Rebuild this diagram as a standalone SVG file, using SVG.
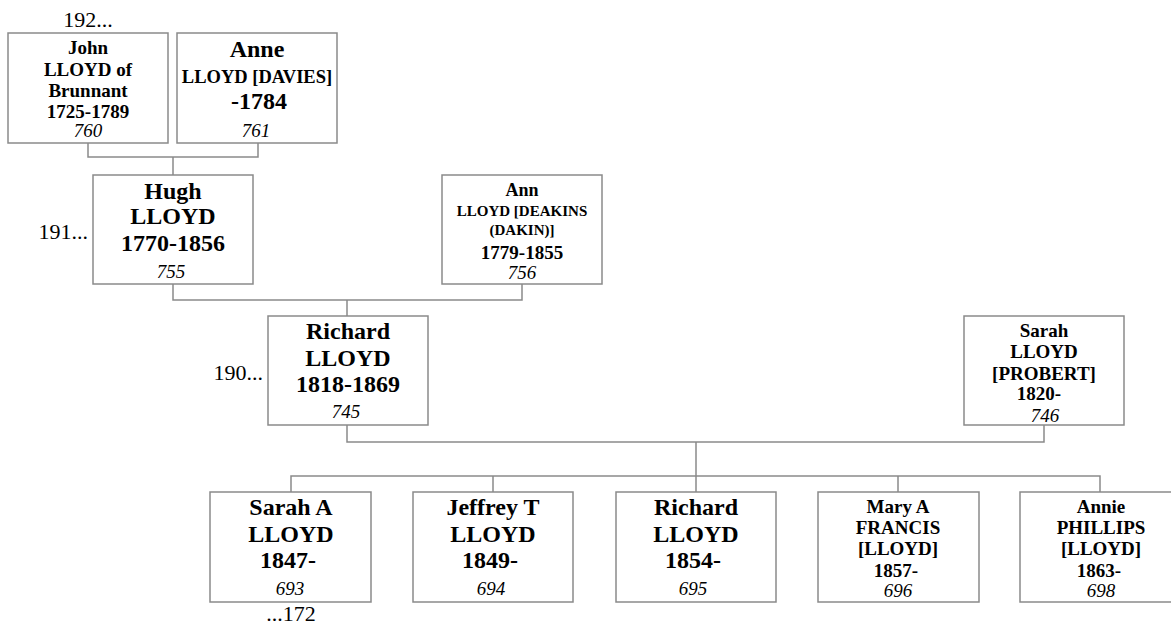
<svg xmlns="http://www.w3.org/2000/svg" width="1171" height="627" viewBox="0 0 1171 627" font-family="'Liberation Serif', Tinos, 'Times New Roman', Times, 'DejaVu Serif', serif">
<style>
.box{fill:#fff;stroke:#8a8a8a;stroke-width:1.5}
.con{fill:none;stroke:#8a8a8a;stroke-width:1.5}
text{fill:#000;text-anchor:middle}
.b{font-weight:bold}
.s24{font-size:24px}
.s19{font-size:19px}
.s18{font-size:18px}
.s185{font-size:18.5px}
.s15{font-size:15px}
.id{font-style:italic;font-size:19px}
.gen{font-size:22px}
</style>
<rect width="1171" height="627" fill="#fff"/>
<g id="connectors">
<path class="con" d="M88,143 V157 H258 V143 M173,157 V175"/>
<path class="con" d="M173,284 V300 H522 V284 M347,300 V316"/>
<path class="con" d="M347,425 V442 H1044 V425 M696,442 V476"/>
<path class="con" d="M291,492 V476 H1100 V492 M493,476 V492 M696,476 V492 M898,476 V492"/>
</g>
<g id="gen-labels">
<text class="gen" x="88" y="27">192...</text>
<text class="gen" x="88" y="239" text-anchor="end" style="text-anchor:end">191...</text>
<text class="gen" x="263" y="380" text-anchor="end" style="text-anchor:end">190...</text>
<text class="gen" x="291" y="621">...172</text>
</g>
<g id="n760">
<rect class="box" x="8" y="33" width="160" height="110"/>
<text class="b s19" x="88" y="54">John</text>
<text class="b s19" x="88" y="76">LLOYD of</text>
<text class="b s19" x="88" y="97">Brunnant</text>
<text class="b s19" x="88" y="118">1725-1789</text>
<text class="id" x="88" y="137">760</text>
</g>
<g id="n761">
<rect class="box" x="177" y="33" width="160" height="110"/>
<text class="b s24" x="257" y="57">Anne</text>
<text class="b s185" x="257" y="83">LLOYD [DAVIES]</text>
<text class="b s24" x="259" y="109">-1784</text>
<text class="id" x="256" y="137">761</text>
</g>
<g id="n755">
<rect class="box" x="93" y="175" width="160" height="109"/>
<text class="b s24" x="173" y="199">Hugh</text>
<text class="b s24" x="173" y="224">LLOYD</text>
<text class="b s24" x="173" y="251">1770-1856</text>
<text class="id" x="171" y="278">755</text>
</g>
<g id="n756">
<rect class="box" x="442" y="175" width="160" height="109"/>
<text class="b s18" x="522" y="196">Ann</text>
<text class="b s15" x="522" y="216">LLOYD [DEAKINS</text>
<text class="b s15" x="522" y="235">(DAKIN)]</text>
<text class="b s19" x="522" y="259">1779-1855</text>
<text class="id" x="522" y="279">756</text>
</g>
<g id="n745">
<rect class="box" x="268" y="316" width="160" height="109"/>
<text class="b s24" x="348" y="339">Richard</text>
<text class="b s24" x="348" y="366">LLOYD</text>
<text class="b s24" x="348" y="392">1818-1869</text>
<text class="id" x="346" y="418">745</text>
</g>
<g id="n746">
<rect class="box" x="964" y="316" width="160" height="109"/>
<text class="b s19" x="1044" y="337">Sarah</text>
<text class="b s19" x="1044" y="358">LLOYD</text>
<text class="b s19" x="1044" y="380">[PROBERT]</text>
<text class="b s19" x="1039" y="400">1820-</text>
<text class="id" x="1045" y="422">746</text>
</g>
<g id="n693">
<rect class="box" x="210" y="492" width="161" height="110"/>
<text class="b s24" x="291" y="515">Sarah A</text>
<text class="b s24" x="291" y="542">LLOYD</text>
<text class="b s24" x="288" y="568">1847-</text>
<text class="id" x="290" y="595">693</text>
</g>
<g id="n694">
<rect class="box" x="413" y="492" width="160" height="110"/>
<text class="b s24" x="493" y="515">Jeffrey T</text>
<text class="b s24" x="493" y="542">LLOYD</text>
<text class="b s24" x="490" y="568">1849-</text>
<text class="id" x="491" y="595">694</text>
</g>
<g id="n695">
<rect class="box" x="616" y="492" width="160" height="110"/>
<text class="b s24" x="696" y="515">Richard</text>
<text class="b s24" x="696" y="542">LLOYD</text>
<text class="b s24" x="693" y="568">1854-</text>
<text class="id" x="693" y="595">695</text>
</g>
<g id="n696">
<rect class="box" x="818" y="492" width="161" height="110"/>
<text class="b s19" x="898" y="513">Mary A</text>
<text class="b s19" x="898" y="534">FRANCIS</text>
<text class="b s19" x="898" y="555">[LLOYD]</text>
<text class="b s19" x="896" y="577">1857-</text>
<text class="id" x="898" y="597">696</text>
</g>
<g id="n698">
<rect class="box" x="1020" y="492" width="161" height="110"/>
<text class="b s19" x="1101" y="513">Annie</text>
<text class="b s19" x="1101" y="534">PHILLIPS</text>
<text class="b s19" x="1101" y="555">[LLOYD]</text>
<text class="b s19" x="1099" y="577">1863-</text>
<text class="id" x="1101" y="597">698</text>
</g>
</svg>
